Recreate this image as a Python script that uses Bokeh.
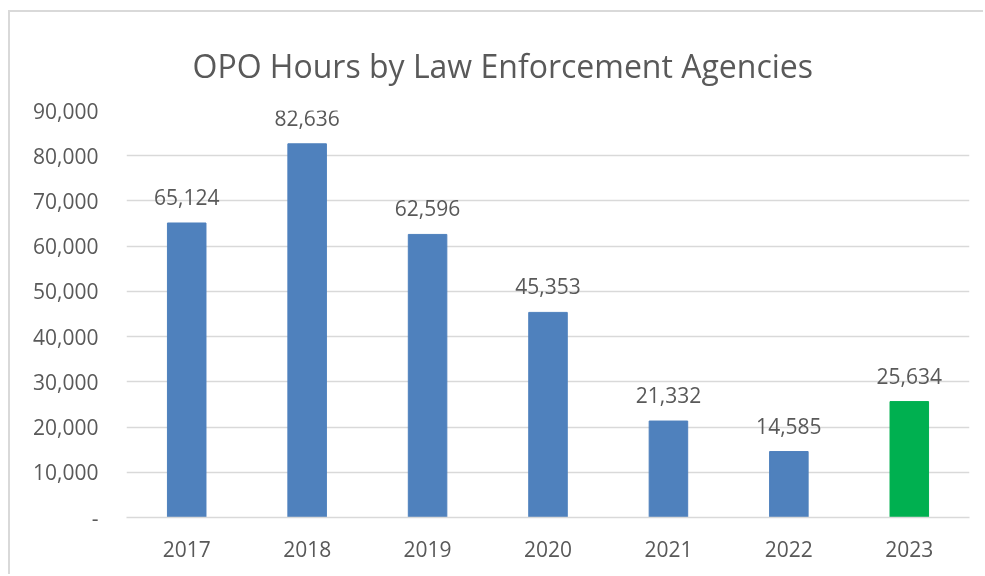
from bokeh.plotting import figure
from bokeh.models import ColumnDataSource, Title, CustomJSTickFormatter, FixedTicker
from bokeh.embed import file_html
from bokeh.resources import INLINE
from bokeh.core.properties import value

years = ["2017", "2018", "2019", "2020", "2021", "2022", "2023"]
hours = [65124, 82636, 62596, 45353, 21332, 14585, 25634]
colors = ["#4F81BD"] * 6 + ["#00B050"]
labels = [f"{h:,}" for h in hours]
yticks = [0, 10000, 20000, 30000, 40000, 50000, 60000, 70000, 80000, 90000]

FONT = "Open Sans"
TXT = "#595959"

src = ColumnDataSource(dict(x=years, top=hours, color=colors, label=labels))

p = figure(x_range=years, y_range=(0, 90000), width=975, height=564,
           output_backend="svg", toolbar_location=None,
           min_border_left=116, min_border_right=16, min_border_top=98, min_border_bottom=59)
p.styles = {"position": "fixed", "top": "10px", "left": "8px",
            "border-top": "2px solid #d9d9d9", "border-left": "2px solid #d9d9d9"}

p.vbar(x="x", top="top", width=0.32, color="color", source=src)
p.text(x="x", y="top", text="label", source=src, text_align="center", text_baseline="bottom",
       y_offset=-18, text_font=value(FONT), text_font_size="21px", text_color=TXT)

p.title = Title(text="OPO Hours by Law Enforcement Agencies", align="left", text_font=FONT,
                text_font_size="32px", text_font_style="normal", text_color=TXT, offset=66, standoff=48)

p.outline_line_color = None
p.xgrid.grid_line_color = None
p.ygrid.grid_line_color = "#d9d9d9"
p.ygrid.grid_line_width = 1.5
p.yaxis.ticker = FixedTicker(ticks=yticks)
p.yaxis.formatter = CustomJSTickFormatter(code="return tick == 0 ? '-' : tick.toLocaleString('en-US');")
p.yaxis.axis_line_color = None
p.yaxis.major_tick_line_color = None
p.yaxis.minor_tick_line_color = None
p.yaxis.major_tick_out = 0
p.yaxis.major_label_standoff = 28
p.xaxis.axis_line_color = "#d9d9d9"
p.xaxis.axis_line_width = 1.5
p.xaxis.major_tick_line_color = None
p.xaxis.major_tick_out = 0
p.xaxis.major_label_standoff = 23
for ax in (p.xaxis, p.yaxis):
    ax.major_label_text_font = FONT
    ax.major_label_text_font_size = "21px"
    ax.major_label_text_color = TXT

html = file_html(p, INLINE)
html = html.replace("</head>", "<style>html, body { overflow: hidden; }</style>\n</head>", 1)
open("out.html", "w").write(html)
